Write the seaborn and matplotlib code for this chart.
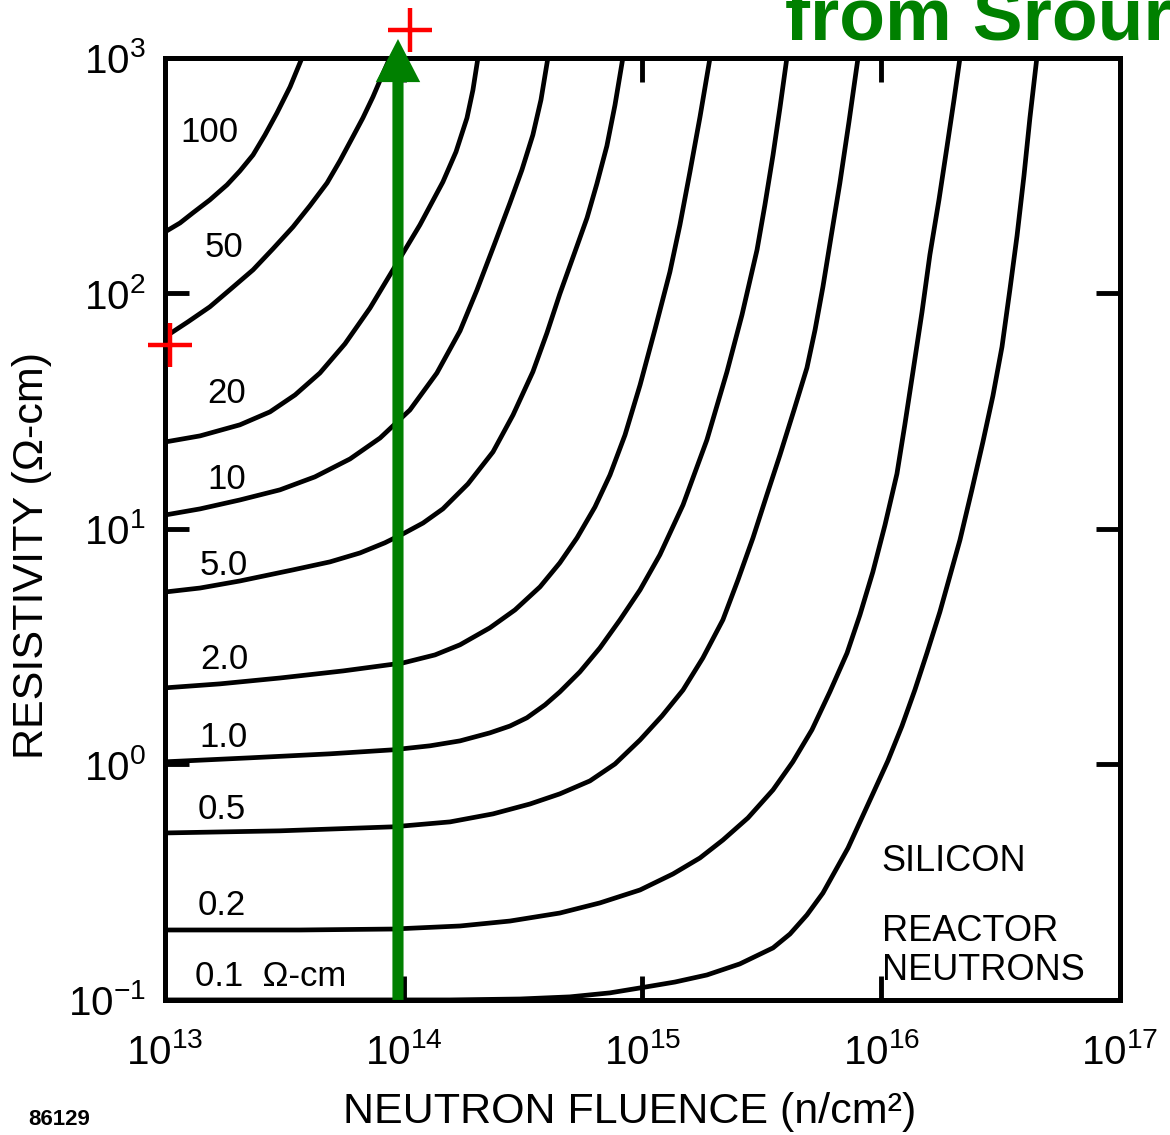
import numpy as np
import pandas as pd
import matplotlib
matplotlib.use("Agg")
import matplotlib.pyplot as plt
from matplotlib.ticker import FixedLocator, FuncFormatter
import seaborn as sns

# ---------------- data (log10 fluence [n/cm^2], log10 resistivity [ohm-cm]) ----------------
curve_labels = ["100", "50", "20", "10", "5.0", "2.0", "1.0", "0.5", "0.2", "0.1  Ω-cm"]

c100_logx = [13.0, 13.063, 13.117, 13.188, 13.260, 13.314, 13.369, 13.419, 13.469, 13.524, 13.574]
c100_logy = [2.261, 2.299, 2.342, 2.397, 2.461, 2.520, 2.588, 2.673, 2.766, 2.877, 3.0]

c50_logx = [13.0, 13.096, 13.188, 13.276, 13.369, 13.452, 13.536, 13.607, 13.679, 13.733, 13.787,
            13.829, 13.871, 13.909, 13.942]
c50_logy = [1.815, 1.879, 1.943, 2.019, 2.100, 2.189, 2.282, 2.372, 2.469, 2.563, 2.665,
            2.745, 2.834, 2.924, 3.0]

c20_logx = [13.0, 13.147, 13.314, 13.440, 13.545, 13.649, 13.754, 13.859, 13.955, 14.068, 14.164,
            14.219, 14.265, 14.290, 14.311]
c20_logy = [1.369, 1.395, 1.442, 1.497, 1.569, 1.662, 1.786, 1.938, 2.100, 2.291, 2.473,
            2.601, 2.745, 2.864, 3.0]

c10_logx = [13.0, 13.147, 13.314, 13.482, 13.628, 13.775, 13.901, 14.026, 14.139, 14.236, 14.307,
            14.382, 14.445, 14.495, 14.541, 14.575, 14.604]
c10_logy = [1.059, 1.085, 1.123, 1.166, 1.221, 1.297, 1.386, 1.505, 1.662, 1.841, 2.015,
            2.214, 2.384, 2.524, 2.673, 2.822, 3.0]

c5_logx = [13.0, 13.147, 13.314, 13.536, 13.691, 13.817, 13.921, 13.997, 14.081, 14.164, 14.269,
           14.374, 14.458, 14.541, 14.600, 14.654, 14.717, 14.768, 14.809, 14.851, 14.885, 14.918]
c5_logy = [0.732, 0.749, 0.779, 0.826, 0.860, 0.898, 0.941, 0.979, 1.025, 1.085, 1.191,
           1.327, 1.484, 1.667, 1.832, 1.998, 2.176, 2.321, 2.465, 2.626, 2.800, 3.0]

c2_logx = [13.0, 13.230, 13.482, 13.746, 13.997, 14.131, 14.236, 14.361, 14.466, 14.571, 14.654,
           14.726, 14.801, 14.864, 14.927, 14.990, 15.052, 15.115, 15.157, 15.199, 15.241, 15.283]
c2_logy = [0.325, 0.342, 0.367, 0.397, 0.431, 0.465, 0.508, 0.580, 0.656, 0.754, 0.856,
           0.962, 1.093, 1.229, 1.399, 1.611, 1.845, 2.091, 2.291, 2.516, 2.749, 3.0]

c1_logx = [13.0, 13.356, 13.691, 13.955, 14.110, 14.236, 14.361, 14.445, 14.516, 14.592, 14.654,
           14.738, 14.822, 14.906, 14.990, 15.073, 15.170, 15.270, 15.354, 15.417, 15.480,
           15.513, 15.547, 15.576, 15.605]
c1_logy = [0.011, 0.028, 0.045, 0.062, 0.079, 0.100, 0.134, 0.163, 0.198, 0.253, 0.308,
           0.393, 0.495, 0.614, 0.741, 0.890, 1.102, 1.378, 1.667, 1.909, 2.185,
           2.376, 2.588, 2.788, 3.0]

c05_logx = [13.0, 13.482, 13.955, 14.194, 14.374, 14.529, 14.654, 14.780, 14.885, 14.990, 15.082,
            15.170, 15.253, 15.337, 15.400, 15.463, 15.521, 15.576, 15.635, 15.689, 15.723,
            15.756, 15.790, 15.827, 15.865, 15.903]
c05_logy = [-0.291, -0.282, -0.265, -0.244, -0.210, -0.168, -0.125, -0.070, 0.002, 0.104, 0.206,
            0.316, 0.452, 0.614, 0.783, 0.962, 1.144, 1.314, 1.505, 1.684, 1.845,
            2.028, 2.240, 2.469, 2.728, 3.0]

c02_logx = [13.0, 13.565, 13.955, 14.236, 14.445, 14.654, 14.822, 14.990, 15.128, 15.241, 15.337,
            15.442, 15.547, 15.630, 15.710, 15.785, 15.857, 15.911, 15.965, 16.016, 16.066,
            16.099, 16.133, 16.171, 16.204, 16.242, 16.275, 16.305, 16.330]
c02_logy = [-0.703, -0.703, -0.699, -0.686, -0.665, -0.631, -0.588, -0.533, -0.465, -0.397, -0.321,
            -0.227, -0.108, 0.011, 0.147, 0.308, 0.473, 0.635, 0.817, 1.017, 1.234,
            1.442, 1.667, 1.921, 2.164, 2.397, 2.618, 2.822, 3.0]

c01_logx = [13.0, 14.194, 14.487, 14.696, 14.864, 14.990, 15.136, 15.270, 15.408, 15.547, 15.618,
            15.689, 15.756, 15.861, 15.965, 16.028, 16.087, 16.141, 16.192, 16.246, 16.330,
            16.380, 16.426, 16.468, 16.506, 16.539, 16.569, 16.598, 16.623, 16.652]
c01_logy = [-1.0, -1.0, -0.996, -0.987, -0.970, -0.949, -0.924, -0.894, -0.847, -0.779, -0.720,
            -0.639, -0.546, -0.355, -0.125, 0.015, 0.163, 0.316, 0.474, 0.648, 0.953,
            1.166, 1.369, 1.565, 1.773, 2.015, 2.244, 2.499, 2.745, 3.0]

# curve label anchors (log10 x, log10 y)
label_logx = [13.188, 13.247, 13.260, 13.260, 13.247, 13.247, 13.247, 13.239, 13.239, 13.126]
label_logy = [2.682, 2.193, 1.577, 1.208, 0.843, 0.444, 0.113, -0.193, -0.601, -0.902]

# annotations
arrow_logx = 13.976
arrow_logy = [-1.0, 3.08]
plus_logx = [14.026, 13.021]
plus_logy = [3.119, 1.781]

x_ticks_log = [13, 14, 15, 16, 17]
y_ticks_log = [-1, 0, 1, 2, 3]

# ---------------- build long table ----------------
curves_x = [c100_logx, c50_logx, c20_logx, c10_logx, c5_logx, c2_logx, c1_logx, c05_logx, c02_logx, c01_logx]
curves_y = [c100_logy, c50_logy, c20_logy, c10_logy, c5_logy, c2_logy, c1_logy, c05_logy, c02_logy, c01_logy]
rows = []
for name, lx, ly in zip(curve_labels, curves_x, curves_y):
    for a, b in zip(lx, ly):
        rows.append({"curve": name, "fluence": 10.0 ** a, "resistivity": 10.0 ** b})
df = pd.DataFrame(rows)

# ---------------- style ----------------
sns.set_style("white")
plt.rcParams["font.family"] = ["Liberation Sans", "DejaVu Sans"]
plt.rcParams["mathtext.fontset"] = "custom"
plt.rcParams["mathtext.rm"] = "Liberation Sans"
plt.rcParams["mathtext.it"] = "Liberation Sans:italic"
plt.rcParams["mathtext.bf"] = "Liberation Sans:bold"
plt.rcParams["text.color"] = "black"
plt.rcParams["axes.labelcolor"] = "black"
plt.rcParams["xtick.color"] = "black"
plt.rcParams["ytick.color"] = "black"

fig = plt.figure(figsize=(11.7, 11.35), dpi=100)
ax = fig.add_axes([0.141, 0.119, 0.8162, 0.830])
ax.set_xscale("log")
ax.set_yscale("log")

sns.lineplot(data=df, x="fluence", y="resistivity", units="curve", estimator=None,
             sort=False, color="black", linewidth=3.4, ax=ax, legend=False,
             solid_joinstyle="round", solid_capstyle="round")

ax.set_xlim(1e13, 1e17)
ax.set_ylim(1e-1, 1e3)

for s in ax.spines.values():
    s.set_visible(True)
    s.set_linewidth(3.6)
    s.set_color("black")

ax.xaxis.set_major_locator(FixedLocator([10.0 ** v for v in x_ticks_log]))
ax.yaxis.set_major_locator(FixedLocator([10.0 ** v for v in y_ticks_log]))
ax.minorticks_off()
fmt = FuncFormatter(lambda v, p: r"$\mathregular{10^{%d}}$" % int(round(np.log10(v))))
ax.xaxis.set_major_formatter(fmt)
ax.yaxis.set_major_formatter(fmt)
ax.tick_params(which="major", direction="in", length=17, width=3.5,
               bottom=True, left=True, top=True, right=True,
               labelsize=29, colors="black")
ax.tick_params(axis="x", pad=24)
ax.tick_params(axis="y", pad=14)

ax.set_xlabel("NEUTRON FLUENCE (n/cm²)", fontsize=31)
ax.xaxis.set_label_coords(0.487, -0.098)
ax.set_ylabel("RESISTIVITY (Ω-cm)", fontsize=31)
ax.yaxis.set_label_coords(-0.118, 0.472)

# curve labels
for i, (t, lx, ly) in enumerate(zip(curve_labels, label_logx, label_logy)):
    ha = "left" if i == len(curve_labels) - 1 else "center"
    ax.text(10 ** lx, 10 ** ly, t, ha=ha, va="center", fontsize=25, color="black")

ax.text(10 ** 16.003, 10 ** -0.414, "SILICON", ha="left", va="center", fontsize=26)
ax.text(10 ** 16.003, 10 ** -0.711, "REACTOR", ha="left", va="center", fontsize=26)
ax.text(10 ** 16.003, 10 ** -0.873, "NEUTRONS", ha="left", va="center", fontsize=26)

# green arrow
ax.annotate("", xy=(10 ** arrow_logx, 10 ** arrow_logy[1]),
            xytext=(10 ** arrow_logx, 10 ** arrow_logy[0]),
            xycoords="data", textcoords="data", annotation_clip=False,
            arrowprops=dict(arrowstyle="simple,head_width=32,head_length=31,tail_width=8",
                            mutation_scale=1, color="#008000", shrinkA=0, shrinkB=0, lw=0))

# red plus markers
ax.plot([10 ** v for v in plus_logx], [10 ** v for v in plus_logy], linestyle="none",
        marker="+", markersize=32, markeredgewidth=3.2, color="red", clip_on=False, zorder=6)

fig.text(785 / 1170, 1 - 40 / 1135, "from Srour", color="#008000", fontsize=54,
         fontweight="bold", ha="left", va="baseline")
fig.text(28 / 1170, 1 - 1130 / 1135, "86129", fontsize=16, fontweight="bold",
         ha="left", va="bottom")

fig.savefig("out.png", dpi=100)
